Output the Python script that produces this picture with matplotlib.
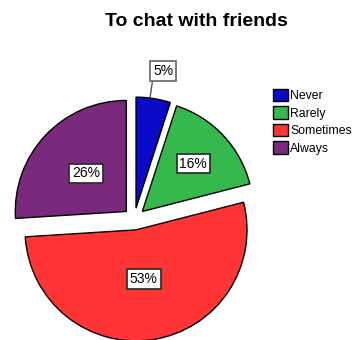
import numpy as np
import matplotlib
matplotlib.use('Agg')
from matplotlib import pyplot as plt

# response counts in percent, clockwise from 12 o'clock
categories = ['Never', 'Rarely', 'Sometimes', 'Always']
percent = [5, 16, 53, 26]
colors = ['#0a0ac8', '#35b84c', '#ff3535', '#7a2a7c']
title = 'To chat with friends'

plt.rcParams['font.family'] = ['Liberation Sans', 'DejaVu Sans']

W, H = 362, 340
fig = plt.figure(figsize=(W / 100, H / 100), dpi=100)
ax = fig.add_axes([0, 0, 1, 1])

cx, cy = 134.3, H - 219
R = 111
gap = 11

wedges, texts, autotexts = ax.pie(
    percent, colors=colors, startangle=90, counterclock=False,
    explode=[gap] * len(percent), radius=R, center=(cx, cy),
    autopct=lambda p: '%.0f%%' % p,
    wedgeprops=dict(edgecolor='black', linewidth=1.0),
    textprops=dict(fontsize=10, color='black'))

# inside labels sit at different depths; small slices get an outside box
label_r = [None, 0.63, 0.45, 0.50]
start = 90.0
for i, (v, at) in enumerate(zip(percent, autotexts)):
    mid = np.deg2rad(start - 3.6 * v / 2)
    start -= 3.6 * v
    ox = cx + gap * np.cos(mid)
    oy = cy + gap * np.sin(mid)
    if label_r[i] is None:
        at.set_visible(False)
        bx, by = 163, H - 71
        # leader drops straight down from the box corner onto the rim
        px = bx - 13
        py = oy + np.sqrt(R ** 2 - (px - ox) ** 2)
        ax.annotate(at.get_text(), xy=(px, py), xytext=(bx, by),
                    ha='center', va='center', fontsize=10,
                    bbox=dict(boxstyle='square,pad=0.2', fc='white',
                              ec='#707070', lw=1.3),
                    arrowprops=dict(arrowstyle='-', color='#555555', lw=1.0,
                                    shrinkA=0, shrinkB=0, relpos=(0, 0)))
    else:
        r = label_r[i] * R
        at.set_position((ox + r * np.cos(mid), oy + r * np.sin(mid)))
        at.set_bbox(dict(boxstyle='square,pad=0.2', fc='white',
                         ec='#303030', lw=1.3))

ax.text(196, H - 26, title, ha='center', va='baseline',
        fontsize=14, fontweight='bold')

ax.legend(wedges, categories, loc='upper left',
          bbox_to_anchor=(272.5 / W, 1 - 89 / H), frameon=False,
          fontsize=8.8, handlelength=1.23, handleheight=1.15,
          handletextpad=0.2, labelspacing=0.35, borderpad=0,
          borderaxespad=0)

ax.set_xlim(0, W)
ax.set_ylim(0, H)
ax.set_aspect('auto')
ax.axis('off')

fig.savefig('out.png', dpi=100)
